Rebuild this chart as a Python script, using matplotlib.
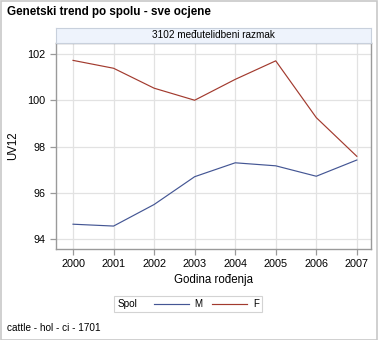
import matplotlib
matplotlib.use("Agg")
import matplotlib.pyplot as plt
from matplotlib.lines import Line2D
from matplotlib.patches import Rectangle
from matplotlib.offsetbox import HPacker

plt.rcParams['font.family'] = ['Liberation Sans', 'DejaVu Sans']

years = [2000, 2001, 2002, 2003, 2004, 2005, 2006, 2007]
uv12_m = [94.65, 94.57, 95.5, 96.7, 97.3, 97.17, 96.72, 97.42]
uv12_f = [101.72, 101.38, 100.52, 100.0, 100.9, 101.7, 99.25, 97.58]
yticks = [94, 96, 98, 100, 102]

W, H = 378, 340
fig = plt.figure(figsize=(W / 100, H / 100), dpi=100)
fig.patch.set_facecolor('white')

# outer frame
fig.add_artist(Rectangle((0.5 / W, 0.5 / H), (W - 1.5) / W, (H - 1.5) / H,
                         transform=fig.transFigure, fill=False,
                         edgecolor='#c8c8c8', linewidth=1.2))

x0, x1, y0, y1 = 56, 371, 43, 249
ax = fig.add_axes([x0 / W, 1 - y1 / H, (x1 - x0) / W, (y1 - y0) / H])

ax.plot(years, uv12_m, color='#445694', linewidth=0.85)
ax.plot(years, uv12_f, color='#a23a2e', linewidth=0.85)

ax.set_xlim(1999.58, 2007.35)
ax.set_ylim(93.58, 102.47)
ax.set_xticks(years)
ax.set_yticks(yticks)
ax.grid(True, color='#e2e2e2', linewidth=0.9)
ax.set_axisbelow(True)
for s in ax.spines.values():
    s.set_color('#9a9a9a')
    s.set_linewidth(1.0)
ax.tick_params(colors='#9a9a9a', labelcolor='black', labelsize=7.8, length=4, width=0.9)
ax.set_xlabel('Godina rođenja', fontsize=8.3, labelpad=3)
ax.set_ylabel('UV12', fontsize=8.3, labelpad=6)

# panel header
hdr = fig.add_axes([x0 / W, 1 - y0 / H, (x1 - x0) / W, 15 / H])
hdr.set_facecolor('#eef3fc')
hdr.set_xticks([])
hdr.set_yticks([])
for s in hdr.spines.values():
    s.set_color('#c8d0dc')
    s.set_linewidth(0.8)
hdr.text(0.5, 0.5, '3102 međutelidbeni razmak', ha='center', va='center', fontsize=7.2)

fig.text(7 / W, 1 - 12 / H, 'Genetski trend po spolu - sve ocjene',
         fontsize=8.4, fontweight='bold', va='center', ha='left')
fig.text(7 / W, 1 - 328 / H, 'cattle - hol - ci - 1701',
         fontsize=7.2, va='center', ha='left')

# legend
handles = [Line2D([], [], color='#445694', linewidth=0.85),
           Line2D([], [], color='#a23a2e', linewidth=0.85)]
leg = fig.legend(handles, ['M', 'F'], title='Spol', ncol=2,
                 loc='center', bbox_to_anchor=(188 / W, 1 - 304 / H),
                 fontsize=7, title_fontsize=7.2, frameon=True, fancybox=False,
                 handlelength=3.6, handletextpad=0.6, columnspacing=1.0,
                 borderpad=0.35)
leg.get_frame().set_edgecolor('#c8c8c8')
leg.get_frame().set_linewidth(0.8)
# title on the same row as the entries
title_box = leg._legend_title_box
entries = leg._legend_handle_box
leg._legend_box._children = [HPacker(pad=0, sep=12, children=[title_box, entries], align='center')]

fig.savefig('out.png', dpi=100)
